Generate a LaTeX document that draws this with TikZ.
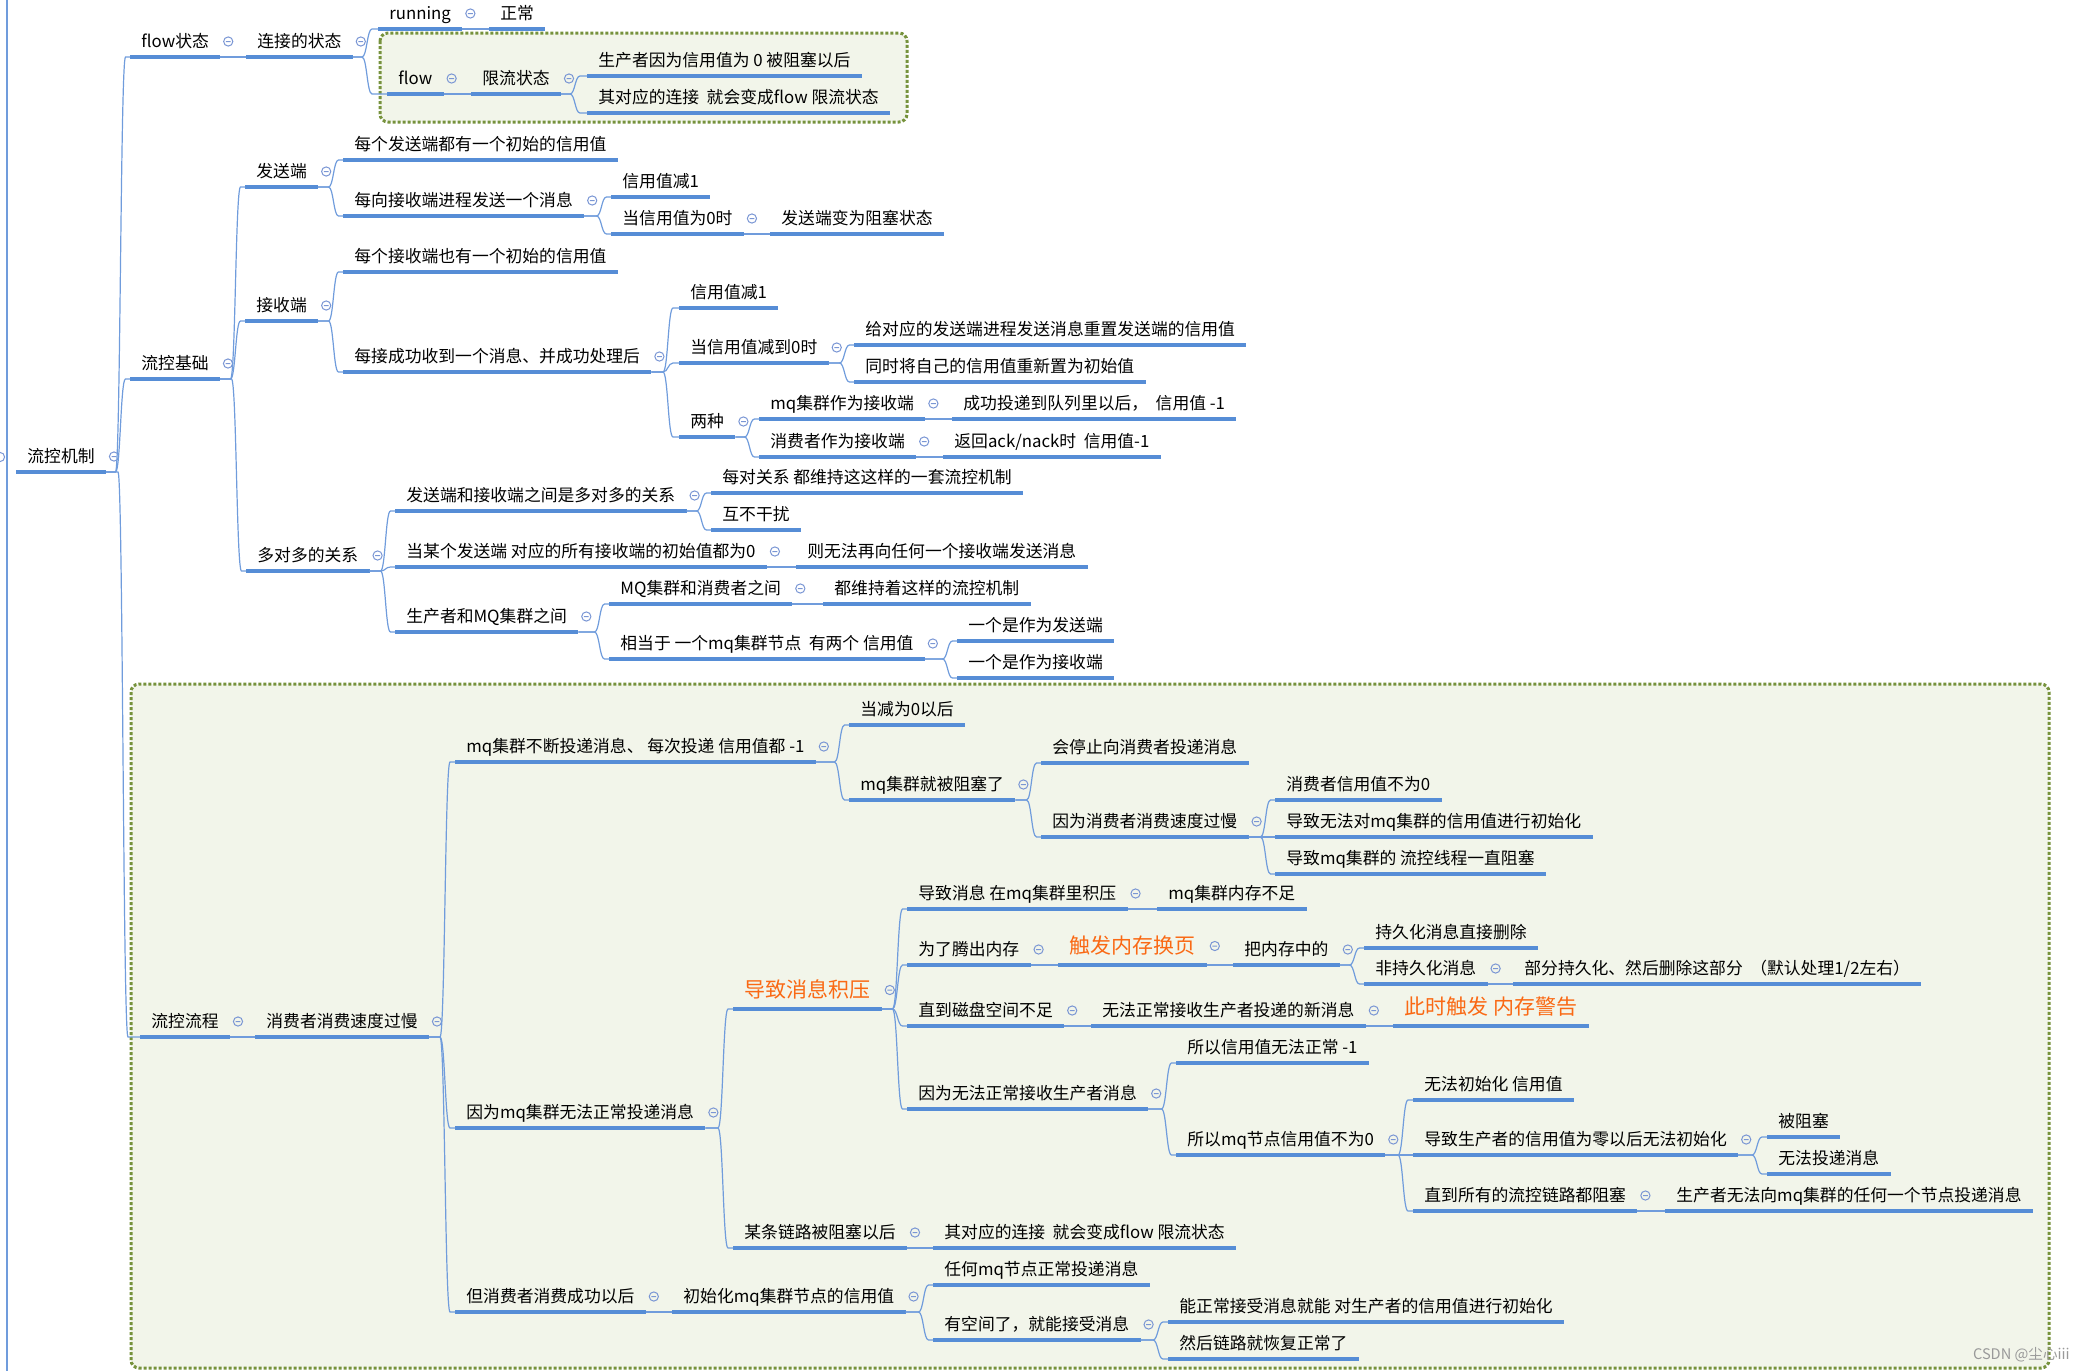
\documentclass[tikz,border=0pt]{standalone}
\usepackage{fontspec}
\setmainfont{Noto Sans CJK SC}
\usepackage{tikz}
\usetikzlibrary{calc}
\definecolor{lineblue}{RGB}{86,141,214}
\definecolor{linkblue}{RGB}{112,156,220}
\definecolor{foldblue}{RGB}{122,150,212}
\definecolor{zoneolive}{RGB}{118,146,60}
\definecolor{zonefill}{RGB}{242,245,234}
\definecolor{hotorange}{RGB}{250,105,20}

\begin{document}
\begin{tikzpicture}[x=0.5pt,y=-0.5pt,
	uline/.style={draw=lineblue,line width=2pt},
	topic/.style={anchor=south west,inner xsep=5.5pt,inner ysep=3pt,text height=6.6pt,text depth=1.6pt,font=\fontsize{8.4}{10}\selectfont,append after command={(\tikzlastnode.south west) edge[uline] (\tikzlastnode.south east)}},
	hot/.style={topic,text=hotorange,font=\fontsize{10.5}{12}\selectfont,text height=8.2pt,text depth=2.4pt},
	foldmark/.style={draw=foldblue,line width=0.5pt,to path={([xshift=4pt,yshift=#1]\tikztostart) circle[radius=2.3pt] ++(-1.2pt,0pt) -- ++(2.4pt,0pt)}},
	fold/.style={append after command={(\tikzlastnode.south east) edge[foldmark=#1] (\tikzlastnode.south east)}},
	fold/.default=7.75pt,
	link/.style={draw=linkblue,line width=0.6pt,to path={(\tikztostart.south east) -- ($(\tikztotarget.south west |- \tikztostart.south east)+(-#1-2.5pt,0pt)$) .. controls ($(\tikztotarget.south west |- \tikztostart.south east)+(-#1,0pt)$) and ($(\tikztotarget.south west)+(-#1,0pt)$) .. ($(\tikztotarget.south west)+(-#1+2.5pt,0pt)$) -- (\tikztotarget.south west)}},
	link/.default=4.75pt,
	flat/.style={draw=linkblue,line width=0.6pt,to path={(\tikztostart.south east) -- (\tikztotarget.south west)}},
	zone/.style={draw=zoneolive,fill=zonefill,line width=1.5pt,dash pattern=on 1.5pt off 1pt,rounded corners=4pt},
	wmark/.style={anchor=west,text=black!40,font=\fontsize{7.3}{8}\selectfont}]

	\useasboundingbox (0,0) rectangle (2076,1371);

	% dotted boundaries
	\draw[zone]	(380,33) rectangle (907,122);
	\draw[zone]	(131,684) rectangle (2049,1368);

	% left rail
	\coordinate	(railtop)	at (7,0);
	\coordinate	(railbot)	at (7,1371);
	\draw[draw=linkblue,line width=0.6pt] (railtop) -- (railbot);
	\draw[draw=foldblue,line width=0.5pt] (0,457) circle[radius=2.3pt];

	\node[topic,fold]		(ctrl)		at (16,472)		{流控机制};

	% flow状态
	\node[topic,fold]		(flowst)	at (130,57)		{flow状态};
	\node[topic,fold]		(connst)	at (246,57)		{连接的状态};
	\node[topic,fold]		(running)	at (378,29)		{running};
	\node[topic]			(normal)	at (489,29)		{正常};
	\node[topic,fold]		(flow)		at (387,94)		{flow};
	\node[topic,fold]		(limit)		at (471,94)		{限流状态};
	\node[topic]			(blocked)	at (587,76)		{生产者因为信用值为 0 被阻塞以后};
	\node[topic]			(toflow)	at (587,113)	{其对应的连接~~就会变成flow 限流状态};

	% 流控基础
	\node[topic,fold]		(basic)		at (130,379)	{流控基础};
	\node[topic,fold]		(sender)	at (245,187)	{发送端};
	\node[topic]			(sinit)		at (343,160)	{每个发送端都有一个初始的信用值};
	\node[topic,fold]		(ssend)		at (343,216)	{每向接收端进程发送一个消息};
	\node[topic]			(sdec)		at (611,197)	{信用值减1};
	\node[topic,fold]		(szero)		at (611,234)	{当信用值为0时};
	\node[topic]			(sblock)	at (770,234)	{发送端变为阻塞状态};
	\node[topic,fold]		(recv)		at (245,321)	{接收端};
	\node[topic]			(rinit)		at (343,272)	{每个接收端也有一个初始的信用值};
	\node[topic,fold]		(rgot)		at (343,372)	{每接成功收到一个消息、并成功处理后};
	\node[topic]			(rdec)		at (679,308)	{信用值减1};
	\node[topic,fold]		(rzero)		at (679,363)	{当信用值减到0时};
	\node[topic]			(rreset)	at (854,345)	{给对应的发送端进程发送消息重置发送端的信用值};
	\node[topic]			(rself)		at (854,382)	{同时将自己的信用值重新置为初始值};
	\node[topic,fold]		(two)		at (679,437)	{两种};
	\node[topic,fold]		(mqrecv)	at (759,419)	{mq集群作为接收端};
	\node[topic]			(mqdec)		at (952,419)	{成功投递到队列里以后，~~信用值 -1};
	\node[topic,fold]		(consrecv)	at (759,457)	{消费者作为接收端};
	\node[topic]			(ackdec)	at (943,457)	{返回ack/nack时~~信用值-1};
	\node[topic,fold]		(many)		at (246,571)	{多对多的关系};
	\node[topic,fold]		(manyrel)	at (395,511)	{发送端和接收端之间是多对多的关系};
	\node[topic]			(eachpair)	at (711,493)	{每对关系 都维持这这样的一套流控机制};
	\node[topic]			(noaffect)	at (711,530)	{互不干扰};
	\node[topic,fold]		(allzero)	at (395,567)	{当某个发送端 对应的所有接收端的初始值都为0};
	\node[topic]			(nosend)	at (796,567)	{则无法再向任何一个接收端发送消息};
	\node[topic,fold]		(prodmq)	at (395,632)	{生产者和MQ集群之间};
	\node[topic,fold]		(mqcons)	at (609,604)	{MQ集群和消费者之间};
	\node[topic]			(keepctrl)	at (823,604)	{都维持着这样的流控机制};
	\node[topic,fold]		(twocred)	at (609,659)	{相当于 一个mq集群节点~~有两个 信用值};
	\node[topic]			(assend)	at (957,641)	{一个是作为发送端};
	\node[topic]			(asrecv)	at (957,678)	{一个是作为接收端};

	% 流控流程
	\node[topic,fold]		(proc)		at (140,1037)	{流控流程};
	\node[topic,fold]		(slow)		at (255,1037)	{消费者消费速度过慢};
	\node[topic,fold]		(mqsend)	at (455,762)	{mq集群不断投递消息、 每次投递 信用值都 -1};
	\node[topic]			(zeroafter)	at (849,725)	{当减为0以后};
	\node[topic,fold]		(mqblock)	at (849,800)	{mq集群就被阻塞了};
	\node[topic]			(stopsend)	at (1041,763)	{会停止向消费者投递消息};
	\node[topic,fold]		(slowcons)	at (1041,837)	{因为消费者消费速度过慢};
	\node[topic]			(consnz)	at (1275,800)	{消费者信用值不为0};
	\node[topic]			(noinit)	at (1275,837)	{导致无法对mq集群的信用值进行初始化};
	\node[topic]			(threadblk)	at (1275,874)	{导致mq集群的 流控线程一直阻塞};
	\node[topic,fold]		(mqfail)	at (455,1128)	{因为mq集群无法正常投递消息};
	\node[hot,fold=9.5pt]	(backlog)	at (733,1009)	{导致消息积压};
	\node[topic,fold]		(pileup)	at (907,909)	{导致消息 在mq集群里积压};
	\node[topic]			(nomem)		at (1157,909)	{mq集群内存不足};
	\node[topic,fold]		(freemem)	at (907,965)	{为了腾出内存};
	\node[hot,fold=9.5pt]	(paging)	at (1058,965)	{触发内存换页};
	\node[topic,fold]		(inmem)		at (1233,965)	{把内存中的};
	\node[topic]			(persist)	at (1364,948)	{持久化消息直接删除};
	\node[topic,fold]		(transient)	at (1364,984)	{非持久化消息};
	\node[topic]			(partial)	at (1513,984)	{部分持久化、然后删除这部分~~（默认处理1/2左右）};
	\node[topic,fold]		(diskfull)	at (907,1026)	{直到磁盘空间不足};
	\node[topic,fold]		(norecv)	at (1091,1026)	{无法正常接收生产者投递的新消息};
	\node[hot]				(memwarn)	at (1393,1026)	{此时触发 内存警告};
	\node[topic,fold]		(norecvp)	at (907,1109)	{因为无法正常接收生产者消息};
	\node[topic]			(nodec)		at (1176,1063)	{所以信用值无法正常 -1};
	\node[topic,fold]		(nzero)		at (1176,1155)	{所以mq节点信用值不为0};
	\node[topic]			(cantinit)	at (1413,1100)	{无法初始化 信用值};
	\node[topic,fold]		(prodzero)	at (1413,1155)	{导致生产者的信用值为零以后无法初始化};
	\node[topic]			(isblk)		at (1767,1137)	{被阻塞};
	\node[topic]			(nodeliver)	at (1767,1174)	{无法投递消息};
	\node[topic,fold]		(allblk)	at (1413,1211)	{直到所有的流控链路都阻塞};
	\node[topic]			(prodstuck)	at (1665,1211)	{生产者无法向mq集群的任何一个节点投递消息};
	\node[topic,fold]		(linkblk)	at (733,1248)	{某条链路被阻塞以后};
	\node[topic]			(linkflow)	at (933,1248)	{其对应的连接~~就会变成flow 限流状态};
	\node[topic,fold]		(consok)	at (455,1312)	{但消费者消费成功以后};
	\node[topic,fold]		(reinit)	at (672,1312)	{初始化mq集群节点的信用值};
	\node[topic]			(anynode)	at (933,1285)	{任何mq节点正常投递消息};
	\node[topic,fold]		(hasspace)	at (933,1340)	{有空间了，就能接受消息};
	\node[topic]			(prodinit)	at (1168,1322)	{能正常接受消息就能 对生产者的信用值进行初始化};
	\node[topic]			(recover)	at (1168,1359)	{然后链路就恢复正常了};

	\node[wmark]			(csdn)		at (1966,1355)	{CSDN @尘心iii};

	\path
		(ctrl)		edge[link]			(flowst)
		(ctrl)		edge[link]			(basic)
		(ctrl)		edge[link=8.5pt]	(proc)
		(flowst)	edge[flat]			(connst)
		(connst)	edge[link=5.5pt]	(running)
		(connst)	edge[link=10pt]		(flow)
		(running)	edge[flat]			(normal)
		(flow)		edge[flat]			(limit)
		(limit)		edge[link=6pt]		(blocked)
		(limit)		edge[link=6pt]		(toflow)
		(basic)		edge[link]			(sender)
		(basic)		edge[link]			(recv)
		(basic)		edge[link]			(many)
		(sender)	edge[link]			(sinit)
		(sender)	edge[link]			(ssend)
		(ssend)		edge[link]			(sdec)
		(ssend)		edge[link]			(szero)
		(szero)		edge[flat]			(sblock)
		(recv)		edge[link]			(rinit)
		(recv)		edge[link]			(rgot)
		(rgot)		edge[link=5.5pt]	(rdec)
		(rgot)		edge[link=5.5pt]	(rzero)
		(rgot)		edge[link=5.5pt]	(two)
		(rzero)		edge[link]			(rreset)
		(rzero)		edge[link]			(rself)
		(two)		edge[link]			(mqrecv)
		(two)		edge[link]			(consrecv)
		(mqrecv)	edge[flat]			(mqdec)
		(consrecv)	edge[flat]			(ackdec)
		(many)		edge[link]			(manyrel)
		(many)		edge[link]			(allzero)
		(many)		edge[link]			(prodmq)
		(manyrel)	edge[link]			(eachpair)
		(manyrel)	edge[link]			(noaffect)
		(allzero)	edge[flat]			(nosend)
		(prodmq)	edge[link]			(mqcons)
		(prodmq)	edge[link]			(twocred)
		(mqcons)	edge[flat]			(keepctrl)
		(twocred)	edge[link]			(assend)
		(twocred)	edge[link]			(asrecv)
		(proc)		edge[flat]			(slow)
		(slow)		edge[link=5pt]		(mqsend)
		(slow)		edge[link=5pt]		(mqfail)
		(slow)		edge[link=5pt]		(consok)
		(mqsend)	edge[link]			(zeroafter)
		(mqsend)	edge[link]			(mqblock)
		(mqblock)	edge[link]			(stopsend)
		(mqblock)	edge[link]			(slowcons)
		(slowcons)	edge[link]			(consnz)
		(slowcons)	edge[link]			(noinit)
		(slowcons)	edge[link]			(threadblk)
		(mqfail)	edge[link=5pt]		(backlog)
		(mqfail)	edge[link=5pt]		(linkblk)
		(backlog)	edge[link]			(pileup)
		(backlog)	edge[link]			(freemem)
		(backlog)	edge[link]			(diskfull)
		(backlog)	edge[link]			(norecvp)
		(pileup)	edge[flat]			(nomem)
		(freemem)	edge[flat]			(paging)
		(paging)	edge[flat]			(inmem)
		(inmem)		edge[link]			(persist)
		(inmem)		edge[link]			(transient)
		(transient)	edge[flat]			(partial)
		(diskfull)	edge[flat]			(norecv)
		(norecv)	edge[flat]			(memwarn)
		(norecvp)	edge[link]			(nodec)
		(norecvp)	edge[link]			(nzero)
		(nzero)		edge[link=5pt]		(cantinit)
		(nzero)		edge[link=5pt]		(prodzero)
		(nzero)		edge[link=5pt]		(allblk)
		(prodzero)	edge[link=5pt]		(isblk)
		(prodzero)	edge[link=5pt]		(nodeliver)
		(allblk)	edge[flat]			(prodstuck)
		(linkblk)	edge[flat]			(linkflow)
		(consok)	edge[flat]			(reinit)
		(reinit)	edge[link]			(anynode)
		(reinit)	edge[link]			(hasspace)
		(hasspace)	edge[link=5pt]		(prodinit)
		(hasspace)	edge[link=5pt]		(recover)
	;
\end{tikzpicture}
\end{document}
